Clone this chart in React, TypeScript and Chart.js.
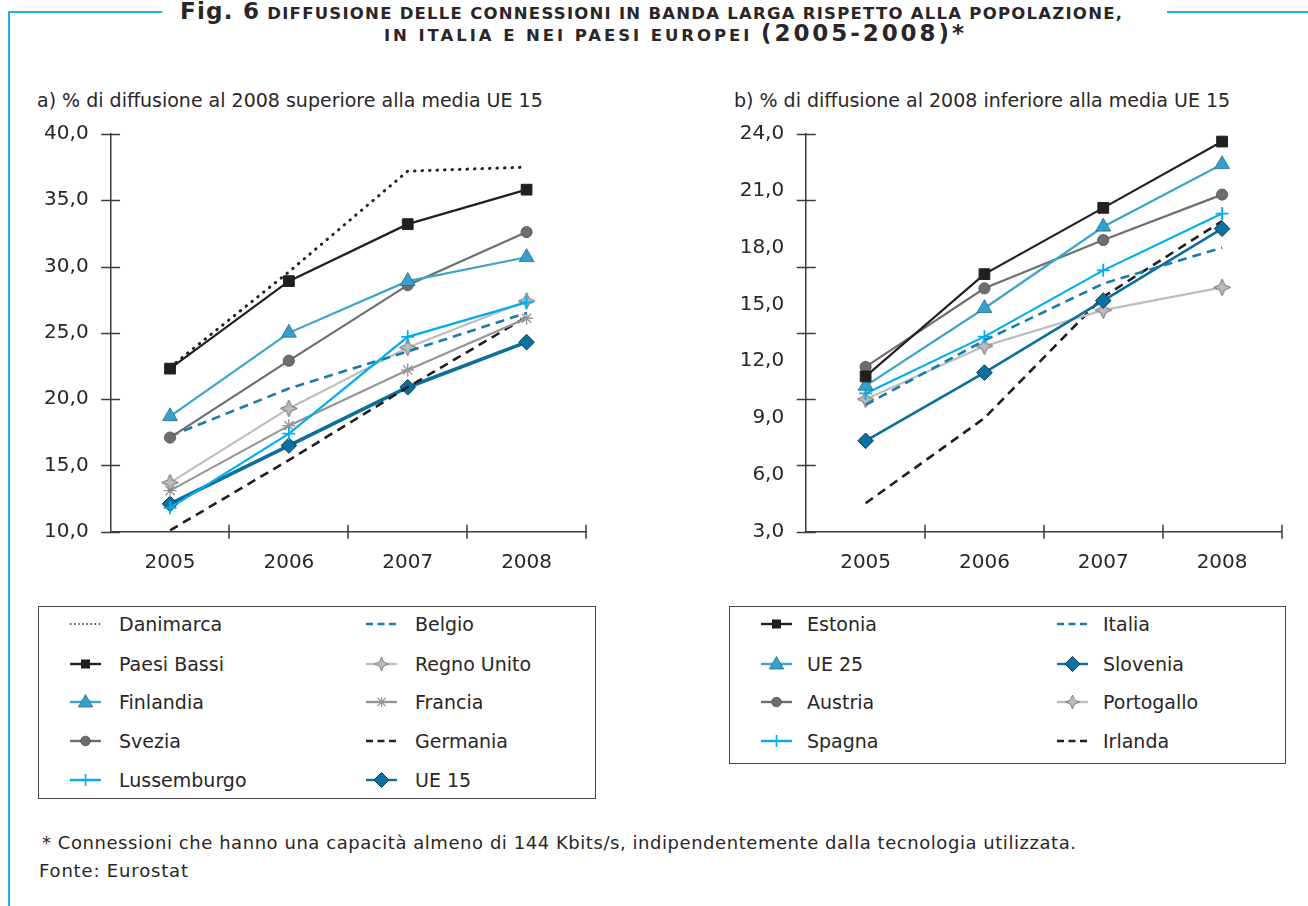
import React, { useEffect, useRef } from 'react';
import { Chart, registerables } from 'chart.js';
Chart.register(...registerables);

// ---------- DATA ----------
const years = ['2005', '2006', '2007', '2008'];

// a) above EU15 average
const danimarca = [22.4, 29.6, 37.2, 37.5];
const paesiBassi = [22.3, 28.9, 33.2, 35.8];
const finlandia = [18.7, 25.0, 28.9, 30.7];
const svezia = [17.1, 22.9, 28.6, 32.6];
const lussemburgo = [11.8, 17.4, 24.7, 27.3];
const belgio = [17.2, 20.8, 23.6, 26.5];
const regnoUnito = [13.7, 19.3, 23.9, 27.4];
const francia = [13.1, 18.0, 22.2, 26.1];
const germania = [10.1, 15.4, 20.9, 26.2];
const ue15 = [12.1, 16.5, 20.9, 24.3];

// b) below EU15 average
const estonia = [11.2, 16.6, 20.1, 23.6];
const ue25 = [10.7, 14.8, 19.1, 22.4];
const austria = [11.7, 15.85, 18.4, 20.8];
const spagna = [10.3, 13.3, 16.8, 19.8];
const italia = [9.7, 13.1, 16.1, 18.0];
const slovenia = [7.8, 11.4, 15.2, 19.0];
const portogallo = [10.0, 12.8, 14.7, 15.9];
const irlanda = [4.5, 9.0, 15.4, 19.4];

// axis ticks
const leftYTickMarks = [10, 15, 20, 25, 30, 35, 40];
const rightYTickMarks = [3, 6.5, 10, 13.5, 17, 20.5, 24];

// ---------- STYLE ----------
const FONT = "'DejaVu Sans', Verdana, sans-serif";
const TEXT = '#2a2627';
const AXIS = '#3d3b3c';
const BLACK = '#231f20';
const FIN = '#3aa5cc';
const GRAY = '#6d6e71';
const CYAN = '#00aeef';
const DASHBLUE = '#1a7aaa';
const LGRAY = '#bcbec0';
const MGRAY = '#939598';
const DTEAL = '#0b6f9c';
const FRAME = '#19b0ec';

type Mk = 'none' | 'square' | 'triangle' | 'circle' | 'cross' | 'star4' | 'asterisk' | 'diamond';
interface SeriesStyle {
  label: string;
  color: string;
  width: number;
  dash?: number[];
  cap?: 'butt' | 'round';
  marker: Mk;
  fill?: string;
  stroke?: string;
}

const leftStyles: SeriesStyle[] = [
  { label: 'Danimarca', color: BLACK, width: 3, dash: [0.5, 7], cap: 'round', marker: 'none' },
  { label: 'Paesi Bassi', color: BLACK, width: 2.2, marker: 'square', fill: BLACK, stroke: BLACK },
  { label: 'Finlandia', color: FIN, width: 2.2, marker: 'triangle', fill: '#35a0c8', stroke: '#1f6f8f' },
  { label: 'Svezia', color: GRAY, width: 2.2, marker: 'circle', fill: '#6d6e71', stroke: '#505153' },
  { label: 'Lussemburgo', color: CYAN, width: 2.2, marker: 'cross', fill: CYAN, stroke: CYAN },
  { label: 'Belgio', color: DASHBLUE, width: 2.6, dash: [9, 6], marker: 'none' },
  { label: 'Regno Unito', color: LGRAY, width: 2.2, marker: 'star4', fill: '#b9bbbd', stroke: '#6d6e71' },
  { label: 'Francia', color: MGRAY, width: 2.2, marker: 'asterisk', fill: MGRAY, stroke: MGRAY },
  { label: 'Germania', color: BLACK, width: 2.6, dash: [9, 6], marker: 'none' },
  { label: 'UE 15', color: DTEAL, width: 3.6, marker: 'diamond', fill: '#0a72a0', stroke: '#14384d' },
];
const leftData = [danimarca, paesiBassi, finlandia, svezia, lussemburgo, belgio, regnoUnito, francia, germania, ue15];

const rightStyles: SeriesStyle[] = [
  { label: 'Estonia', color: BLACK, width: 2.2, marker: 'square', fill: BLACK, stroke: BLACK },
  { label: 'UE 25', color: FIN, width: 2.2, marker: 'triangle', fill: '#35a0c8', stroke: '#1f6f8f' },
  { label: 'Austria', color: GRAY, width: 2.2, marker: 'circle', fill: '#6d6e71', stroke: '#505153' },
  { label: 'Spagna', color: CYAN, width: 2.2, marker: 'cross', fill: CYAN, stroke: CYAN },
  { label: 'Italia', color: DASHBLUE, width: 2.6, dash: [9, 6], marker: 'none' },
  { label: 'Slovenia', color: DTEAL, width: 2.6, marker: 'diamond', fill: '#0a72a0', stroke: '#14384d' },
  { label: 'Portogallo', color: LGRAY, width: 2.2, marker: 'star4', fill: '#b9bbbd', stroke: '#6d6e71' },
  { label: 'Irlanda', color: BLACK, width: 2.6, dash: [9, 6], marker: 'none' },
];
const rightData = [estonia, ue25, austria, spagna, italia, slovenia, portogallo, irlanda];

function makeStar(r: number, fill: string, stroke: string): HTMLCanvasElement {
  const c = document.createElement('canvas');
  const s = Math.ceil(r * 2 + 4);
  c.width = s;
  c.height = s;
  const ctx = c.getContext('2d')!;
  const cx = s / 2, cy = s / 2, k = 0.3 * r;
  ctx.beginPath();
  ctx.moveTo(cx, cy - r);
  ctx.lineTo(cx + k, cy - k);
  ctx.lineTo(cx + r, cy);
  ctx.lineTo(cx + k, cy + k);
  ctx.lineTo(cx, cy + r);
  ctx.lineTo(cx - k, cy + k);
  ctx.lineTo(cx - r, cy);
  ctx.lineTo(cx - k, cy - k);
  ctx.closePath();
  ctx.fillStyle = fill;
  ctx.fill();
  ctx.strokeStyle = stroke;
  ctx.lineWidth = 1;
  ctx.stroke();
  return c;
}

function buildDataset(st: SeriesStyle, data: number[]) {
  let pointStyle: any = false;
  let radius = 0;
  let bw = 1;
  switch (st.marker) {
    case 'square': pointStyle = 'rect'; radius = 7.6; break;
    case 'triangle': pointStyle = 'triangle'; radius = 8.6; bw = 0.8; break;
    case 'circle': pointStyle = 'circle'; radius = 5.6; bw = 0.8; break;
    case 'cross': pointStyle = 'cross'; radius = 6.5; bw = 1.8; break;
    case 'asterisk': pointStyle = 'star'; radius = 6.5; bw = 1.4; break;
    case 'diamond': pointStyle = 'rectRot'; radius = 7.8; bw = 1; break;
    case 'star4': pointStyle = makeStar(8.5, st.fill!, st.stroke!); radius = 8; break;
  }
  return {
    label: st.label,
    data,
    borderColor: st.color,
    borderWidth: st.width,
    borderDash: st.dash || [],
    borderCapStyle: st.cap || 'butt',
    tension: 0,
    fill: false,
    pointStyle,
    pointRadius: radius,
    pointHoverRadius: radius,
    pointBackgroundColor: st.fill || st.color,
    pointBorderColor: st.stroke || st.color,
    pointBorderWidth: bw,
  };
}

function crossTicks(yMarks: number[]) {
  return {
    id: 'crossTicks',
    afterDraw(chart: any) {
      const { ctx, chartArea, scales } = chart;
      const x = scales.x, y = scales.y;
      ctx.save();
      ctx.strokeStyle = AXIS;
      ctx.lineWidth = 1.5;
      ctx.beginPath();
      for (const v of yMarks) {
        const py = Math.round(y.getPixelForValue(v)) + 0.5;
        ctx.moveTo(chartArea.left - 9.5, py);
        ctx.lineTo(chartArea.left + 9.5, py);
      }
      const half = (x.getPixelForValue(1) - x.getPixelForValue(0)) / 2;
      for (let i = 0; i < years.length; i++) {
        const px = Math.round(x.getPixelForValue(i) + half);
        ctx.moveTo(px, chartArea.bottom - 7);
        ctx.lineTo(px, chartArea.bottom + 7);
      }
      ctx.stroke();
      ctx.restore();
    },
  };
}

interface ChartProps {
  left: number; top: number; width: number; height: number;
  styles: SeriesStyle[]; data: number[][];
  yMin: number; yMax: number; yStep: number; yMarks: number[];
  yWidth: number; padRight: number;
}

function LineChart(p: ChartProps) {
  const ref = useRef<HTMLCanvasElement>(null);
  useEffect(() => {
    const chart = new Chart(ref.current!, {
      type: 'line',
      data: {
        labels: years,
        datasets: p.styles.map((s, i) => buildDataset(s, p.data[i])) as any,
      },
      options: {
        animation: false,
        responsive: false,
        maintainAspectRatio: false,
        layout: { padding: { left: 0, top: 14, right: p.padRight, bottom: 0 } },
        plugins: { legend: { display: false }, tooltip: { enabled: false } },
        scales: {
          x: {
            type: 'category',
            offset: true,
            grid: { display: false, drawTicks: false },
            border: { display: true, color: AXIS, width: 1.5 },
            ticks: { font: { family: FONT, size: 20 }, color: TEXT, padding: 19, maxRotation: 0 },
            afterFit: (s: any) => { s.height = 58.3; },
          },
          y: {
            min: p.yMin,
            max: p.yMax,
            grid: { display: false, drawTicks: false },
            border: { display: true, color: AXIS, width: 1.5 },
            ticks: {
              stepSize: p.yStep,
              font: { family: FONT, size: 20 },
              color: TEXT,
              padding: 22,
              callback: (v: any) => Number(v).toFixed(1).replace('.', ','),
            },
            afterFit: (s: any) => {
              s.width = p.yWidth;
              s.paddingTop = 12;
              s.paddingBottom = 12;
            },
          },
        },
      } as any,
      plugins: [crossTicks(p.yMarks)],
    });
    return () => chart.destroy();
  }, []);
  return (
    <div style={{ position: 'absolute', left: p.left, top: p.top, width: p.width, height: p.height }}>
      <canvas ref={ref} width={p.width} height={p.height} style={{ width: p.width, height: p.height, display: 'block' }} />
    </div>
  );
}

function LegendMarker({ st }: { st: SeriesStyle }) {
  const cx = 15.5, cy = 9;
  const line = (
    <line x1={0} y1={cy} x2={31} y2={cy} stroke={st.color}
      strokeWidth={st.marker === 'none' && st.cap === 'round' ? 1.6 : 2.4}
      strokeDasharray={st.dash ? (st.cap === 'round' ? '1.5 2.6' : '7 4.5') : undefined}
      strokeLinecap="butt" />
  );
  let m: any = null;
  switch (st.marker) {
    case 'square': m = <rect x={cx - 4.5} y={cy - 4.5} width={9} height={9} fill={st.fill} />; break;
    case 'triangle': m = <polygon points={`${cx},${cy - 7.5} ${cx + 7.2},${cy + 5} ${cx - 7.2},${cy + 5}`} fill={st.fill} stroke={st.stroke} strokeWidth={0.8} />; break;
    case 'circle': m = <circle cx={cx} cy={cy} r={4.8} fill={st.fill} stroke={st.stroke} strokeWidth={0.8} />; break;
    case 'cross': m = <path d={`M${cx} ${cy - 6}V${cy + 6}`} stroke={st.stroke} strokeWidth={1.6} />; break;
    case 'asterisk': m = <path d={`M${cx} ${cy - 5}V${cy + 5}M${cx - 4} ${cy - 4}L${cx + 4} ${cy + 4}M${cx - 4} ${cy + 4}L${cx + 4} ${cy - 4}`} stroke={st.stroke} strokeWidth={1.2} />; break;
    case 'diamond': m = <polygon points={`${cx},${cy - 7.5} ${cx + 7.5},${cy} ${cx},${cy + 7.5} ${cx - 7.5},${cy}`} fill={st.fill} stroke={st.stroke} strokeWidth={1} />; break;
    case 'star4': {
      const r = 7, k = 2.1;
      m = <polygon points={`${cx},${cy - r} ${cx + k},${cy - k} ${cx + r},${cy} ${cx + k},${cy + k} ${cx},${cy + r} ${cx - k},${cy + k} ${cx - r},${cy} ${cx - k},${cy - k}`} fill={st.fill} stroke={st.stroke} strokeWidth={0.8} />;
      break;
    }
  }
  return (
    <svg width={31} height={18} style={{ position: 'absolute', overflow: 'visible' }}>
      {line}
      {m}
    </svg>
  );
}

function Legend({ left, top, width, height, styles, rows, textOffset }: { left: number; top: number; width: number; height: number; styles: SeriesStyle[]; rows: number; textOffset: number }) {
  const rowY = [17, 56.5, 95, 133.5, 172.5];
  return (
    <div style={{ position: 'absolute', left, top, width, height, border: '1.5px solid #4a4748', boxSizing: 'border-box' }}>
      {styles.map((st, i) => {
        const col = Math.floor(i / rows);
        const row = i % rows;
        const sx = col === 0 ? 31 : 327;
        const tx = col === 0 ? textOffset : 296 + textOffset;
        const y = rowY[row];
        return (
          <React.Fragment key={st.label}>
            <div style={{ position: 'absolute', left: sx, top: y - 9, width: 31, height: 18 }}>
              <LegendMarker st={st} />
            </div>
            <div style={{ position: 'absolute', left: tx, top: y - 12, height: 24, lineHeight: '24px', fontFamily: FONT, fontSize: 19, color: TEXT, whiteSpace: 'nowrap' }}>
              {st.label}
            </div>
          </React.Fragment>
        );
      })}
    </div>
  );
}

export default function App() {
  return (
    <div style={{ position: 'absolute', left: 0, top: 0, width: 1308, height: 906, background: '#ffffff', overflow: 'hidden', fontFamily: FONT }}>
      {/* frame */}
      <div style={{ position: 'absolute', left: 8, top: 11, width: 154, height: 2, background: FRAME }} />
      <div style={{ position: 'absolute', left: 1167, top: 11, width: 141, height: 2, background: FRAME }} />
      <div style={{ position: 'absolute', left: 8, top: 11, width: 2, height: 895, background: FRAME }} />

      {/* title + texts */}
      <svg width={1308} height={906} style={{ position: 'absolute', left: 0, top: 0 }}>
        <text x={180} y={19} textLength={942} fontFamily={FONT} fontWeight="bold" fill={TEXT}>
          <tspan fontSize={23}>Fig. 6</tspan>
          <tspan fontSize={16.5}> DIFFUSIONE DELLE CONNESSIONI IN BANDA LARGA RISPETTO ALLA POPOLAZIONE,</tspan>
        </text>
        <text x={384} y={41} textLength={580} fontFamily={FONT} fontWeight="bold" fill={TEXT}>
          <tspan fontSize={16.5}>IN ITALIA E NEI PAESI EUROPEI </tspan>
          <tspan fontSize={23}>(2005-2008)*</tspan>
        </text>
        <text x={37} y={107} fontFamily={FONT} fontSize={19} fill={TEXT}>a) % di diffusione al 2008 superiore alla media UE 15</text>
        <text x={734} y={107} fontFamily={FONT} fontSize={19} fill={TEXT}>b) % di diffusione al 2008 inferiore alla media UE 15</text>
        <text x={42} y={849} textLength={1034} fontFamily={FONT} fontSize={18} fill={TEXT}>* Connessioni che hanno una capacità almeno di 144 Kbits/s, indipendentemente dalla tecnologia utilizzata.</text>
        <text x={39} y={877} textLength={149} fontFamily={FONT} fontSize={18} fill={TEXT}>Fonte: Eurostat</text>
      </svg>

      <LineChart left={20} top={120} width={580} height={470} styles={leftStyles} data={leftData}
        yMin={10} yMax={40} yStep={5} yMarks={leftYTickMarks} yWidth={90.6} padRight={14} />
      <LineChart left={700} top={120} width={600} height={470} styles={rightStyles} data={rightData}
        yMin={3} yMax={24} yStep={3} yMarks={rightYTickMarks} yWidth={106.2} padRight={18.5} />

      <Legend left={38} top={606} width={558} height={193} styles={leftStyles} rows={5} textOffset={80} />
      <Legend left={729} top={606} width={557} height={158} styles={rightStyles} rows={4} textOffset={77} />
    </div>
  );
}
